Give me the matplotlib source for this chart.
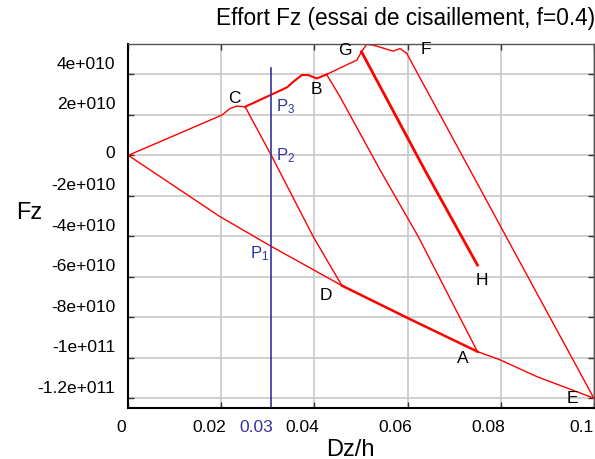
import matplotlib
matplotlib.use('Agg')
import matplotlib.pyplot as plt
from matplotlib.transforms import blended_transform_factory, offset_copy

plt.rcParams['font.family'] = ['Liberation Sans', 'DejaVu Sans']
plt.rcParams['mathtext.fontset'] = 'custom'
plt.rcParams['mathtext.rm'] = 'Liberation Sans'
plt.rcParams['mathtext.it'] = 'Liberation Sans'

# loading path O -> C -> B -> G -> F
load_x = [0, 0.0090, 0.0201, 0.0219, 0.0233, 0.0251, 0.0341, 0.0354, 0.0373, 0.0386,
          0.0405, 0.0426, 0.0491, 0.0501, 0.0512, 0.0526, 0.0569, 0.0584, 0.0598]
load_y = [0, 0.89e10, 1.99e10, 2.32e10, 2.43e10, 2.40e10, 3.36e10, 3.63e10, 3.97e10, 3.97e10,
          3.80e10, 4.00e10, 4.71e10, 5.12e10, 5.48e10, 5.45e10, 5.15e10, 5.28e10, 5.04e10]

# unloading branches
cd_x = [0.0251, 0.0309, 0.0398, 0.0459]
cd_y = [2.40e10, -0.08e10, -4.05e10, -6.44e10]
ba_x = [0.0426, 0.0455, 0.0541, 0.0623, 0.0750]
ba_y = [4.00e10, 2.89e10, -0.73e10, -4.02e10, -9.70e10]
gh_x = [0.0501, 0.0637, 0.0750]
gh_y = [5.12e10, -0.73e10, -5.42e10]
fe_x = [0.0598, 0.0734, 0.0827, 0.1000]
fe_y = [5.04e10, -0.72e10, -4.67e10, -12.0e10]

# lower envelope O -> D -> A -> E
low_x = [0, 0.0197, 0.0308, 0.0459, 0.0601, 0.0750, 0.0798, 0.0877, 0.1000]
low_y = [0, -3.03e10, -4.51e10, -6.44e10, -8.05e10, -9.70e10, -10.1e10, -10.93e10, -12.0e10]

p_line_x = 0.0307
p_line_top = 4.30e10

point_names = ['C', 'B', 'G', 'F', 'D', 'H', 'A', 'E']
point_x = [0.0227, 0.0404, 0.0466, 0.0639, 0.0424, 0.0759, 0.0719, 0.0955]
point_y = [2.82e10, 3.26e10, 5.20e10, 5.23e10, -6.95e10, -6.19e10, -10.04e10, -12.03e10]

p_names = [r'P$_3$', r'P$_2$', r'P$_1$']
p_x = [0.0317, 0.0317, 0.0261]
p_y = [2.43e10, -0.03e10, -4.87e10]

xticks = [0, 0.02, 0.04, 0.06, 0.08, 0.1]
xlabels = ['0', '0.02', '0.04', '0.06', '0.08', '0.1']
yticks = [4e10, 2e10, 0, -2e10, -4e10, -6e10, -8e10, -10e10, -12e10]
ylabels = ['4e+010', '2e+010', '0', '-2e+010', '-4e+010', '-6e+010', '-8e+010', '-1e+011', '-1.2e+011']

red = '#ff0000'
blue = '#3333a0'

fig = plt.figure(figsize=(5.95, 4.59), dpi=100)
ax = fig.add_axes([0.2156, 0.111, 0.998 - 0.2156, 0.904 - 0.111])

ax.plot(load_x[:6], load_y[:6], color=red, lw=1)
ax.plot(load_x[5:12], load_y[5:12], color=red, lw=1.5)
ax.plot(load_x[11:], load_y[11:], color=red, lw=1)
ax.plot(cd_x, cd_y, color=red, lw=1)
ax.plot(ba_x, ba_y, color=red, lw=1)
ax.plot(gh_x, gh_y, color=red, lw=2)
ax.plot(fe_x, fe_y, color=red, lw=1)
ax.plot(low_x[:4], low_y[:4], color=red, lw=1)
ax.plot(low_x[3:6], low_y[3:6], color=red, lw=1.8)
ax.plot(low_x[5:], low_y[5:], color=red, lw=1)
ax.plot([p_line_x, p_line_x], [-13e10, p_line_top], color=blue, lw=1.2)

for n, x, y in zip(point_names, point_x, point_y):
    ax.text(x, y, n, fontsize=12.5, ha='center', va='center', color='black')
for n, x, y in zip(p_names, p_x, p_y):
    ax.text(x, y, n, fontsize=12, ha='left', va='center', color=blue)

ax.set_xlim(0, 0.1)
ax.set_ylim(-12.49e10, 5.5e10)
ax.set_xticks(xticks)
ax.set_yticks(yticks)
ax.set_xticklabels([])
ax.set_yticklabels([])
ax.grid(True, color='#c8c8c8', lw=1.2)
ax.set_axisbelow(True)
ax.tick_params(direction='in', length=4, width=1, top=True, right=True, colors='#333333')
for s in ['left', 'bottom']:
    ax.spines[s].set_linewidth(1.5)
    ax.spines[s].set_color('black')
for s in ['top', 'right']:
    ax.spines[s].set_linewidth(1)
    ax.spines[s].set_color('#555555')

# tick labels (slightly shifted, as in the original)
bx = blended_transform_factory(ax.transData, ax.transAxes)
by = blended_transform_factory(ax.transAxes, ax.transData)
for x, lbl in zip(xticks, xlabels):
    dx = -7 if lbl == '0' else -12
    ax.text(x, 0, lbl, fontsize=12.5, ha='center', va='center', clip_on=False,
            transform=offset_copy(bx, fig=fig, x=dx, y=-19, units='dots'))
ax.text(0.03, 0, '0.03', fontsize=12.5, ha='center', va='center', color=blue, clip_on=False,
        transform=offset_copy(bx, fig=fig, x=-12, y=-19, units='dots'))
for y, lbl in zip(yticks, ylabels):
    dy = 2 if lbl == '0' else 10
    ax.text(0, y, lbl, fontsize=12.5, ha='right', va='center', clip_on=False,
            transform=offset_copy(by, fig=fig, x=-13, y=dy, units='dots'))

fig.text(406 / 595, 1 - 19 / 459, 'Effort Fz (essai de cisaillement, f=0.4)',
         fontsize=16.3, ha='center', va='center')
fig.text(350 / 595, 1 - 450 / 459, 'Dz/h', fontsize=17, ha='center', va='center')
fig.text(29 / 595, 1 - 213 / 459, 'Fz', fontsize=17, ha='center', va='center')

fig.savefig('out.png', dpi=100)
